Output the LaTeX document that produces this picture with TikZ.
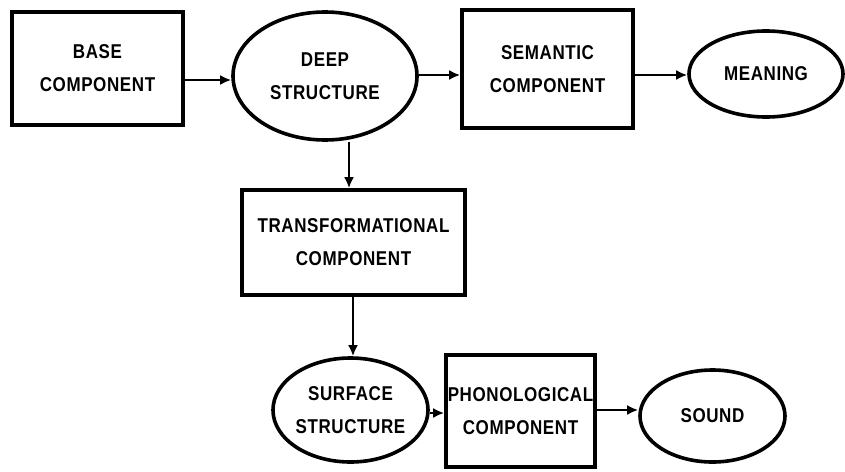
\documentclass[tikz,border=0pt]{standalone}
\usepackage{fontspec}
\setmainfont{Liberation Sans}[LetterSpace=3,FakeStretch=0.85]
\usetikzlibrary{arrows.meta,shapes.geometric}

\begin{document}
\begin{tikzpicture}[x=1pt,y=-1pt,>={Latex[length=11pt,width=10pt]},
  every node/.style={font=\bfseries\fontsize{20}{33}\selectfont,align=center,inner sep=0pt},
  comp/.style={draw,line width=3.6pt,rectangle},
  struct/.style={draw,line width=3.6pt,ellipse},
  flow/.style={->,line width=2.8pt}]
  \useasboundingbox (0,0) rectangle (845,471);

  % top row
  \node[comp,minimum width=171pt,minimum height=113pt] (base) at (97.5,68.5) {BASE\\COMPONENT};
  \node[struct,minimum width=184pt,minimum height=128pt] (deep) at (325,76) {DEEP\\STRUCTURE};
  \node[comp,minimum width=171pt,minimum height=118pt] (sem) at (547.5,69) {SEMANTIC\\COMPONENT};
  \node[struct,minimum width=154pt,minimum height=86pt] (mean) at (766,74) {MEANING};

  % middle
  \node[comp,minimum width=223pt,minimum height=105pt] (trans) at (353.5,242.5) {TRANSFORMATIONAL\\COMPONENT};

  % bottom row
  \node[struct,minimum width=146pt,minimum height=104pt] (surf) at (350.5,410) {SURFACE\\STRUCTURE};
  \node[comp,minimum width=149pt,minimum height=112pt] (phon) at (520.5,411) {PHONOLOGICAL\\COMPONENT};
  \node[struct,minimum width=145pt,minimum height=92pt] (sound) at (712.5,416) {SOUND};

  % connectors
  \draw[flow] (base.east |- 0,80) -- (deep.west |- 0,80);
  \draw[flow] (deep.east |- 0,75) -- (sem.west |- 0,75);
  \draw[flow] (sem.east |- 0,75) -- (mean.west |- 0,75);
  \draw[flow] (349,0 |- deep.south) -- (349,0 |- trans.north);
  \draw[flow] (353,0 |- trans.south) -- (353,0 |- surf.north);
  \draw[flow] (surf.east |- 0,413) -- (phon.west |- 0,413);
  \draw[flow] (phon.east |- 0,410) -- (sound.west |- 0,410);
\end{tikzpicture}
\end{document}
